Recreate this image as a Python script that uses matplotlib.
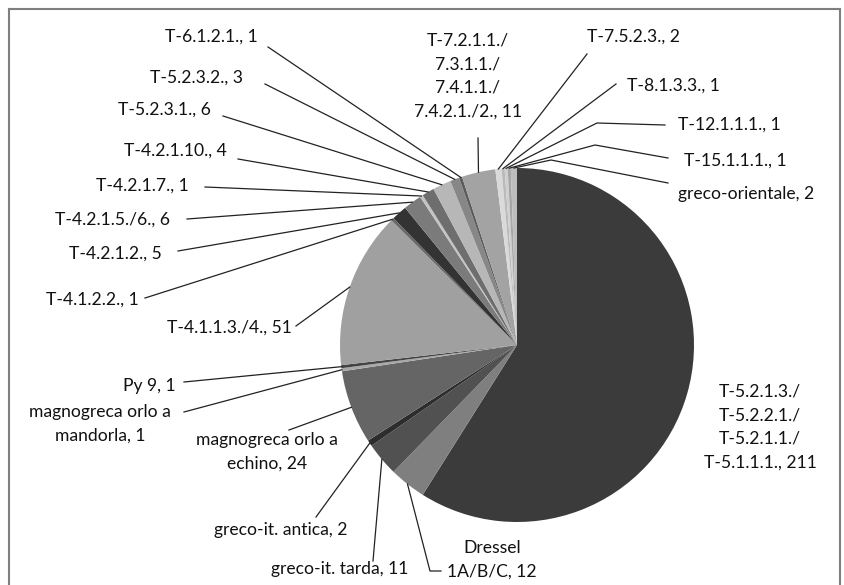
import numpy as np
import matplotlib.pyplot as plt
from matplotlib.lines import Line2D

# slice data, clockwise from 12 o'clock
labels = [
    "T-5.2.1.3./\nT-5.2.2.1./\nT-5.2.1.1./\nT-5.1.1.1., 211",
    "Dressel\n1A/B/C, 12",
    "greco-it. tarda, 11",
    "greco-it. antica, 2",
    "magnogreca orlo a\nechino, 24",
    "magnogreca orlo a\nmandorla, 1",
    "Py 9, 1",
    "T-4.1.1.3./4., 51",
    "T-4.1.2.2., 1",
    "T-4.2.1.2., 5",
    "T-4.2.1.5./6., 6",
    "T-4.2.1.7., 1",
    "T-4.2.1.10., 4",
    "T-5.2.3.1., 6",
    "T-5.2.3.2., 3",
    "T-6.1.2.1., 1",
    "T-7.2.1.1./\n7.3.1.1./\n7.4.1.1./\n7.4.2.1./2., 11",
    "T-7.5.2.3., 2",
    "T-8.1.3.3., 1",
    "T-12.1.1.1., 1",
    "T-15.1.1.1., 1",
    "greco-orientale, 2",
]
values = [211, 12, 11, 2, 24, 1, 1, 51, 1, 5, 6, 1, 4, 6, 3, 1, 11, 2, 1, 1, 1, 2]
grays = ["#3b3b3b", "#7f7f7f", "#515151", "#2d2d2d", "#656565", "#a8a8a8",
         "#444444", "#a0a0a0", "#6a6a6a", "#333333", "#7b7b7b", "#c4c4c4",
         "#6e6e6e", "#b7b7b7", "#878787", "#5c5c5c", "#a3a3a3", "#dadada",
         "#bababa", "#cfcfcf", "#a6a6a6", "#bdbdbd"]

# label layout in image pixels: (x, y, ha), leader start, optional elbow
text_pos = [(760, 427, "center"), (492, 560, "center"), (340, 569, "center"),
            (281, 530, "center"), (267, 452, "center"), (100, 424, "center"),
            (176, 386, "right"), (292, 328, "right"), (139, 300, "right"),
            (162, 254, "right"), (170, 220, "right"), (189, 186, "right"),
            (227, 151, "right"), (211, 110, "right"), (243, 78, "right"),
            (258, 37, "right"), (468, 76, "center"), (587, 37, "left"),
            (627, 86, "left"), (678, 125, "left"), (684, 161, "left"),
            (678, 194, "left")]
line_start = [None, (441, 571), (373, 561), (316, 517), (289, 430), (184, 412),
              (184, 382), (296, 326), (145, 298), (178, 251), (187, 219),
              (205, 187), (238, 159), (223, 116), (265, 84), (268, 47),
              (478, 138), (587, 54), (616, 84), (665, 125), (668, 158),
              (668, 183)]
elbows = {1: (430, 571), 19: (597, 123), 20: (595, 145), 21: (551, 160)}

W, H = 845, 585
cx, cy, R = 517, 345, 177


def px(x, y):
    return x, H - y


fig = plt.figure(figsize=(W / 100, H / 100), dpi=100)
ax = fig.add_axes([0, 0, 1, 1])

wedges, _ = ax.pie(values, colors=grays, startangle=90, counterclock=False,
                   center=px(cx, cy), radius=R, frame=True,
                   wedgeprops=dict(linewidth=0))
ax.set_xlim(0, W)
ax.set_ylim(0, H)
ax.set_aspect("equal")
ax.axis("off")

font = dict(family=["Lato", "DejaVu Sans"], fontsize=12.6, color="#111111")
for i, w in enumerate(wedges):
    tx, ty, ha = text_pos[i]
    ax.text(*px(tx, ty), labels[i], ha=ha, va="center", linespacing=1.6,
            multialignment="center", **font)
    if line_start[i] is None:
        continue
    mid = np.deg2rad((w.theta1 + w.theta2) / 2)
    ex = w.center[0] + R * np.cos(mid)
    ey = w.center[1] + R * np.sin(mid)
    pts = [px(*line_start[i])]
    if i in elbows:
        pts.append(px(*elbows[i]))
    pts.append((ex, ey))
    xs, ys = zip(*pts)
    ax.plot(xs, ys, color="#222222", lw=0.9)

# chart frame
for seg in [((9, 9), (9, 600)), ((9, 9), (840, 9)), ((840, 9), (840, 600))]:
    (x0, y0), (x1, y1) = seg
    fig.add_artist(Line2D([x0 / W, x1 / W], [1 - y0 / H, 1 - y1 / H],
                          color="#7f7f7f", lw=1.5))

fig.savefig("out.png", dpi=100)
